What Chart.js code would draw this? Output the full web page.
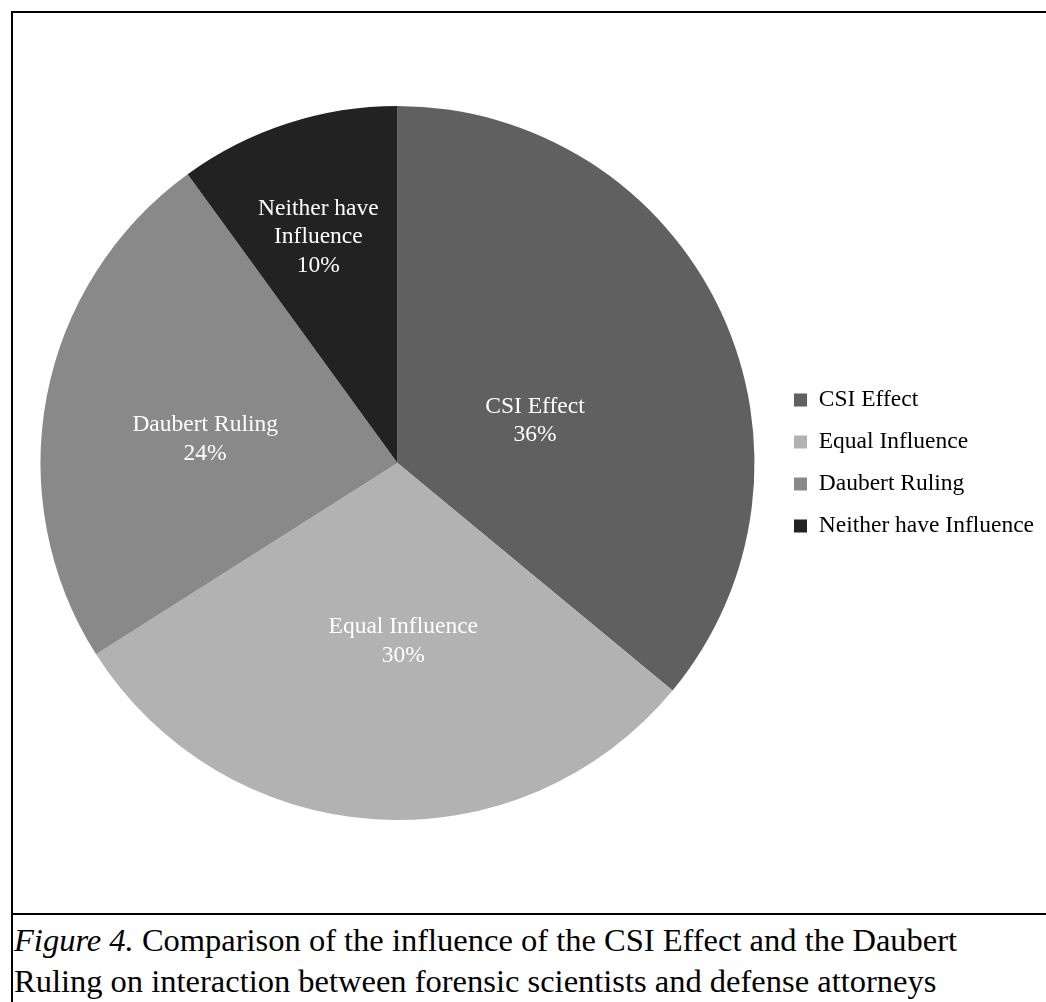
<!DOCTYPE html>
<html>
<head>
<meta charset="utf-8">
<script src="https://cdn.jsdelivr.net/npm/chart.js@4.4.0/dist/chart.umd.min.js"></script>
<style>
  html, body { margin: 0; padding: 0; background: #fff; }
  body { width: 1046px; height: 1002px; position: relative; overflow: hidden; font-family: "Liberation Serif", "Times New Roman", serif; }
  #frame { position: absolute; left: 11px; top: 11px; width: 1100px; height: 1100px; border-left: 2px solid #000; border-top: 2px solid #000; }
  #box { position: absolute; left: 13px; top: 13px; width: 1033px; height: 900px; }
  #rule { position: absolute; left: 11px; top: 913px; width: 1100px; height: 2px; background: #000; }
  #caption { position: absolute; left: 14px; top: 920px; font-size: 32.5px; line-height: 41px; color: #000; white-space: nowrap; }
</style>
</head>
<body>
<div id="frame"></div>
<div id="box"><canvas id="myChart" width="1033" height="900"></canvas></div>
<div id="rule"></div>
<div id="caption"><i>Figure 4.</i> Comparison of the influence of the CSI Effect and the Daubert<br>Ruling on interaction between forensic scientists and defense attorneys</div>
<script>
var categories = ["CSI Effect", "Equal Influence", "Daubert Ruling", "Neither have Influence"];
var percents = [36, 30, 24, 10];
var sliceColors = ["rgb(96, 96, 96)", "rgb(178, 178, 178)", "rgb(137, 137, 137)", "rgb(34, 34, 34)"];

var fontFamily = "'Liberation Serif', 'Times New Roman', serif";
var fontSize = 23.5;
var ctx = document.getElementById("myChart");

// work out how wide the legend will be so the pie lands where it should
var meas = document.createElement("canvas").getContext("2d");
meas.font = fontSize + "px " + fontFamily;
var maxText = 0;
categories.forEach(function (c) { maxText = Math.max(maxText, meas.measureText(c).width); });
var legPad = 18.5, boxW = 13;
var legendWidth = legPad + boxW + fontSize / 2 + maxText + 10;
var chartRight = 762.5;
var rightPad = Math.max(0, 1033 - chartRight - legendWidth);

// label offsets from the slice centre (Excel nudges them to fit)
var labelNudge = [[-24, 34], [17, 0], [-17, 10], [-24, -56]];

function wrapText(c, text, maxW) {
  var words = text.split(" "), lines = [], cur = "";
  words.forEach(function (w) {
    var test = cur ? cur + " " + w : w;
    if (c.measureText(test).width > maxW && cur) { lines.push(cur); cur = w; }
    else cur = test;
  });
  if (cur) lines.push(cur);
  return lines;
}

const sliceLabels = {
  id: "sliceLabels",
  afterDatasetsDraw(chart) {
    var c = chart.ctx;
    var meta = chart.getDatasetMeta(0);
    var data = chart.data.datasets[0].data;
    var total = data.reduce(function (a, b) { return a + b; }, 0);
    c.save();
    c.font = fontSize + "px " + fontFamily;
    c.fillStyle = "#ffffff";
    c.textAlign = "center";
    c.textBaseline = "middle";
    meta.data.forEach(function (arc, i) {
      var p = arc.getCenterPoint();
      var lines = wrapText(c, chart.data.labels[i], 180);
      lines.push(Math.round(data[i] / total * 100) + "%");
      var lh = 28.5;
      var y0 = p.y + labelNudge[i][1] - (lines.length - 1) * lh / 2;
      lines.forEach(function (ln, k) {
        c.fillText(ln, p.x + labelNudge[i][0], y0 + k * lh);
      });
    });
    c.restore();
  }
};

const datachart = {
  labels: categories,
  datasets: [{
    data: percents,
    backgroundColor: sliceColors,
    borderWidth: 0,
    radius: 357
  }]
};

const config = {
  type: "pie",
  data: datachart,
  options: {
    responsive: false,
    animation: false,
    layout: { padding: { left: 6.5, right: rightPad, top: 0, bottom: 0 } },
    plugins: {
      tooltip: { enabled: false },
      legend: {
        position: "right",
        align: "center",
        labels: {
          boxWidth: boxW,
          boxHeight: 13,
          padding: legPad,
          color: "#000",
          font: { family: fontFamily, size: fontSize }
        }
      }
    }
  },
  plugins: [sliceLabels]
};
const myChart = new Chart(ctx, config);
</script>
</body>
</html>
